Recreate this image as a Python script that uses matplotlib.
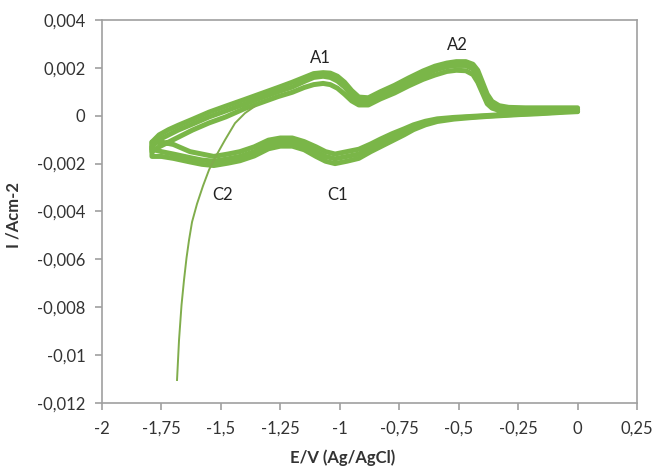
import matplotlib
matplotlib.use("Agg")
import matplotlib.pyplot as plt
from matplotlib.ticker import FuncFormatter, MultipleLocator

plt.rcParams['font.family'] = ['Lato', 'DejaVu Sans']

# anodic branches (left -> right), three cycles
E_an = [-1.79, -1.76, -1.72, -1.68, -1.62, -1.55, -1.48, -1.40, -1.33, -1.26,
        -1.20, -1.15, -1.11, -1.07, -1.04, -1.01, -0.98, -0.95, -0.92, -0.88,
        -0.83, -0.77, -0.71, -0.65, -0.60, -0.55, -0.51, -0.47, -0.44, -0.42,
        -0.40, -0.38, -0.36, -0.33, -0.29, -0.22, -0.12, 0.00]
I_an_outer = [-0.0011, -0.0008, -0.00058, -0.0004, -0.00015, 0.00015, 0.0004, 0.00068, 0.00093, 0.00118,
              0.0014, 0.0016, 0.00176, 0.0018, 0.00178, 0.00165, 0.0014, 0.00105, 0.00078, 0.00075,
              0.001, 0.00127, 0.00158, 0.00187, 0.00207, 0.0022, 0.00226, 0.00226, 0.00215, 0.0019,
              0.0014, 0.0009, 0.0006, 0.00042, 0.00035, 0.00033, 0.00033, 0.00033]
I_an_mid = [-0.0013, -0.0010, -0.0008, -0.0006, -0.00035, -0.00005, 0.0002, 0.00049, 0.00075, 0.001,
            0.0012, 0.00143, 0.0016, 0.00165, 0.0016, 0.00145, 0.0012, 0.00085, 0.00062, 0.0006,
            0.00085, 0.0011, 0.00142, 0.0017, 0.0019, 0.00205, 0.0021, 0.0021, 0.00195, 0.0017,
            0.0012, 0.0007, 0.00045, 0.00032, 0.00027, 0.00025, 0.00025, 0.00025]
I_an_inner = [-0.0015, -0.0013, -0.0011, -0.0009, -0.0006, -0.0003, -0.00005, 0.0003, 0.00055, 0.0008,
              0.00098, 0.00118, 0.0013, 0.00135, 0.0013, 0.00115, 0.0009, 0.00062, 0.00045, 0.00045,
              0.0007, 0.00095, 0.00125, 0.00152, 0.0017, 0.00185, 0.0019, 0.00188, 0.00172, 0.0014,
              0.00095, 0.0005, 0.00032, 0.00022, 0.00018, 0.00017, 0.00017, 0.00017]

# cathodic branches (right -> left), three cycles
E_cat = [0.00, -0.05, -0.10, -0.17, -0.24, -0.31, -0.38, -0.45, -0.52, -0.59,
         -0.64, -0.69, -0.73, -0.78, -0.83, -0.87, -0.92, -0.97, -1.02, -1.06,
         -1.10, -1.15, -1.20, -1.25, -1.30, -1.36, -1.42, -1.47, -1.53, -1.58,
         -1.63, -1.70, -1.75, -1.79]
I_cat_outer = [0.00026, 0.0002, 0.00016, 0.00012, 0.00009, 0.00005, 0.00001, -0.00003, -0.00007, -0.00013,
               -0.00023, -0.00038, -0.00055, -0.00075, -0.00098, -0.00118, -0.0014, -0.0015, -0.0016, -0.0015,
               -0.0013, -0.00108, -0.00093, -0.00093, -0.00102, -0.0013, -0.0015, -0.0016, -0.0017, -0.0016,
               -0.0015, -0.0012, -0.0011, -0.0011]
I_cat_mid = [0.00022, 0.00018, 0.00014, 0.0001, 0.00007, 0.00003, -0.00001, -0.00005, -0.0001, -0.00018,
             -0.0003, -0.00048, -0.00068, -0.0009, -0.00115, -0.00135, -0.0016, -0.0017, -0.0018, -0.0017,
             -0.0015, -0.00125, -0.0011, -0.0011, -0.0012, -0.0015, -0.0017, -0.0018, -0.0019, -0.00185,
             -0.00175, -0.0016, -0.0015, -0.0014]
I_cat_inner = [0.00018, 0.00015, 0.00012, 0.00008, 0.00005, 0.00001, -0.00003, -0.00008, -0.00014, -0.00024,
               -0.00038, -0.00058, -0.0008, -0.00105, -0.0013, -0.0015, -0.00178, -0.0019, -0.002, -0.0019,
               -0.0017, -0.00142, -0.00127, -0.00127, -0.00138, -0.00168, -0.00188, -0.00198, -0.00208, -0.00203,
               -0.00193, -0.00178, -0.0017, -0.0017]

# first scan starting at -1.69 V
E_first = [-1.6846, -1.6762, -1.6657, -1.6552, -1.6447, -1.6341, -1.6215, -1.6005, -1.5753,
           -1.5500, -1.5206, -1.4827, -1.4407, -1.3986, -1.3566]
I_first = [-0.01104, -0.00937, -0.00791, -0.00686, -0.00594, -0.00519, -0.00444, -0.00368, -0.00293,
           -0.00226, -0.00168, -0.00101, -0.00031, 0.00011, 0.00040]

peak_labels = ['A1', 'A2', 'C1', 'C2']
peak_E = [-1.083, -0.507, -1.008, -1.495]
peak_I = [0.00241, 0.00295, -0.00331, -0.00331]

green = '#7ab648'

fig = plt.figure(figsize=(6.57, 4.68), dpi=100)
ax = fig.add_axes([0.1553, 0.1389, 0.8143, 0.8184])

for i_cat, i_an in [(I_cat_outer, I_an_inner), (I_cat_mid, I_an_mid), (I_cat_inner, I_an_outer)]:
    ax.plot(E_cat + E_an, i_cat + i_an, color=green, lw=3.6,
            solid_joinstyle='round', solid_capstyle='round')
ax.plot(E_first, I_first, color='#80ad4c', lw=1.4, solid_joinstyle='round')

for lab, x, y in zip(peak_labels, peak_E, peak_I):
    ax.text(x, y, lab, fontsize=12, ha='center', va='center', color='#222222')

ax.set_xlim(-2, 0.25)
ax.set_ylim(-0.012, 0.004)
ax.xaxis.set_major_locator(MultipleLocator(0.25))
ax.yaxis.set_major_locator(MultipleLocator(0.002))
fmt = FuncFormatter(lambda v, p: ('%g' % round(v, 6)).replace('.', ','))
ax.xaxis.set_major_formatter(fmt)
ax.yaxis.set_major_formatter(fmt)

for s in ax.spines.values():
    s.set_color('#a0a0a0')
    s.set_linewidth(1.2)
ax.tick_params(direction='out', length=5, width=1.2, color='#a0a0a0',
               labelsize=12, labelcolor='#333333')
ax.tick_params(axis='y', pad=7)
ax.tick_params(axis='x', pad=8)

ax.set_xlabel('E/V (Ag/AgCl)', fontsize=12, fontweight='bold', color='#333333')
ax.set_ylabel('I /Acm-2', fontsize=12, fontweight='bold', color='#333333')
ax.xaxis.set_label_coords(0.449, -0.12)
ax.yaxis.set_label_coords(-0.15, 0.49)

fig.savefig('out.png', dpi=100)
